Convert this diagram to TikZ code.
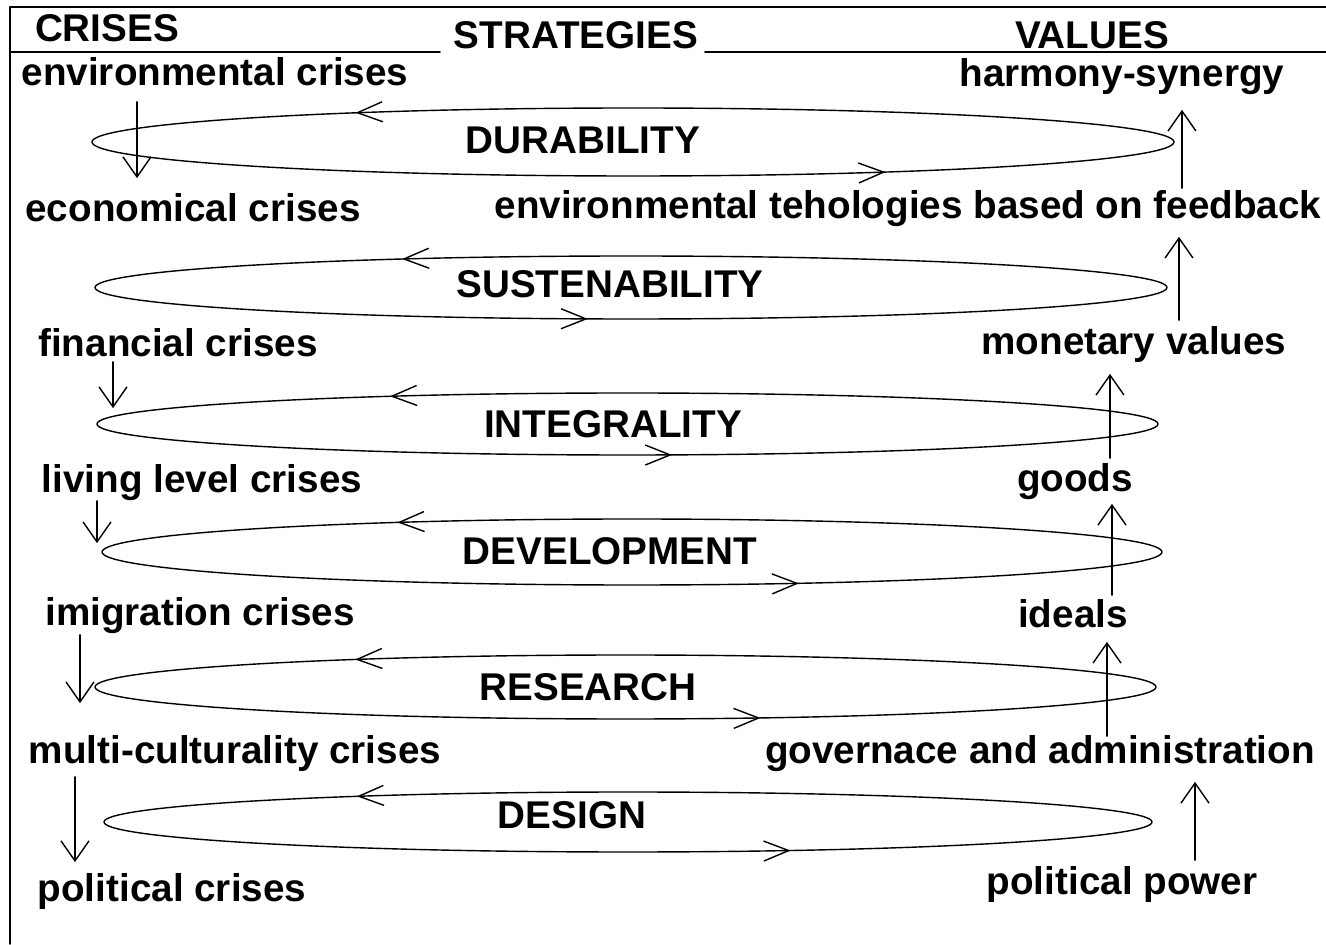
\documentclass[tikz,border=0pt]{standalone}
\usepackage{fontspec}
\setmainfont{Liberation Sans}
\usetikzlibrary{arrows.meta,decorations.markings}

\begin{document}
\begin{tikzpicture}[x=0.02cm, y=0.02cm, line join=round, line cap=round, line width=0.8pt,
  font=\fontsize{22}{26}\selectfont\bfseries,
  txt/.style={inner sep=0pt, outer sep=0pt, text height=15.8pt, text depth=0pt},
  vtip/.tip={Straight Barb[length=0.4cm,width=0.56cm]},
  etip/.tip={Straight Barb[length=0.5cm,width=0.4cm]}]
\useasboundingbox (0,0) rectangle (1326,944);
% frame and heading line
\draw[line width=1.1pt] (1326,937) -- (10,937) -- (10,0);
\draw[line width=1.1pt] (10,892) -- (440,892) (705,892) -- (1326,892);
\node[txt, anchor=west] (crises) at (35,916) {CRISES};
\node[txt] (strat) at (576,909) {STRATEGIES};
\node[txt] (values) at (1092,909) {VALUES};
% crises
\node[txt] (env) at (215,872) {environmental crises};
\node[txt] (econ) at (193,736) {economical crises};
\node[txt] (fin) at (178,601) {financial crises};
\node[txt] (liv) at (202,465) {living level crises};
\node[txt] (img) at (200,332) {imigration crises};
\node[txt] (mul) at (235,194) {multi-culturality crises};
\node[txt] (pol) at (172,56) {political crises};
% values
\node[txt] (harm) at (1122,871) {harmony-synergy};
\node[txt] (fb) at (908,739) {environmental tehologies based on feedback};
\node[txt] (mon) at (1134,603) {monetary values};
\node[txt] (goods) at (1075,466) {goods};
\node[txt] (ideals) at (1073,330) {ideals};
\node[txt] (gov) at (1040,194) {governace and administration};
\node[txt] (ppow) at (1122,63) {political power};
% strategies
\foreach \cx/\cy/\a/\b/\pt/\pb/\nm/\lx/\ly/\txt in {
  633/802/541/34/16.45cm/37.75cm/dur/583/804/DURABILITY,
  631/656.5/536/31.5/15.37cm/31.51cm/sus/610/660/SUSTENABILITY,
  627.5/520/530.5/31/15.43cm/32.93cm/integ/613/520/INTEGRALITY,
  632/392/530/33/15.37cm/35.37cm/dev/610/393/DEVELOPMENT,
  625.5/257/530.5/32/16.09cm/34.75cm/res/588/257/RESEARCH,
  628/122/524/30/15.97cm/34.89cm/des/572/129/DESIGN}{
  \draw[postaction=decorate, decoration={markings,
      mark=at position \pt with {\arrow{etip}},
      mark=at position \pb with {\arrow{etip}}}]
    (\cx,\cy) ellipse [x radius=\a, y radius=\b];
  \node[txt] (\nm) at (\lx,\ly) {\txt};
}
% crises going down
\foreach \x/\from/\to/\s/\e in {137/env/econ/.32/.32, 113/fin/liv/.1/1.14,
  97/liv/img/.16/1.1, 80/img/mul/.18/.66, 75/mul/pol/.26/.24}
  \draw[-vtip, shorten <=\s cm, shorten >=\e cm] (\x,0 |- \from.south) -- (\x,0 |- \to.north);
% values going up
\foreach \x/\from/\to/\s/\e in {1182/fb/harm/.06/.46, 1179/mon/fb/.14/.36,
  1110/goods/mon/.12/.38, 1112/ideals/goods/.1/.24, 1107/gov/ideals/0/.28, 1195/ppow/gov/.14/.36}
  \draw[-vtip, shorten <=\s cm, shorten >=\e cm] (\x,0 |- \from.north) -- (\x,0 |- \to.south);
\end{tikzpicture}
\end{document}
